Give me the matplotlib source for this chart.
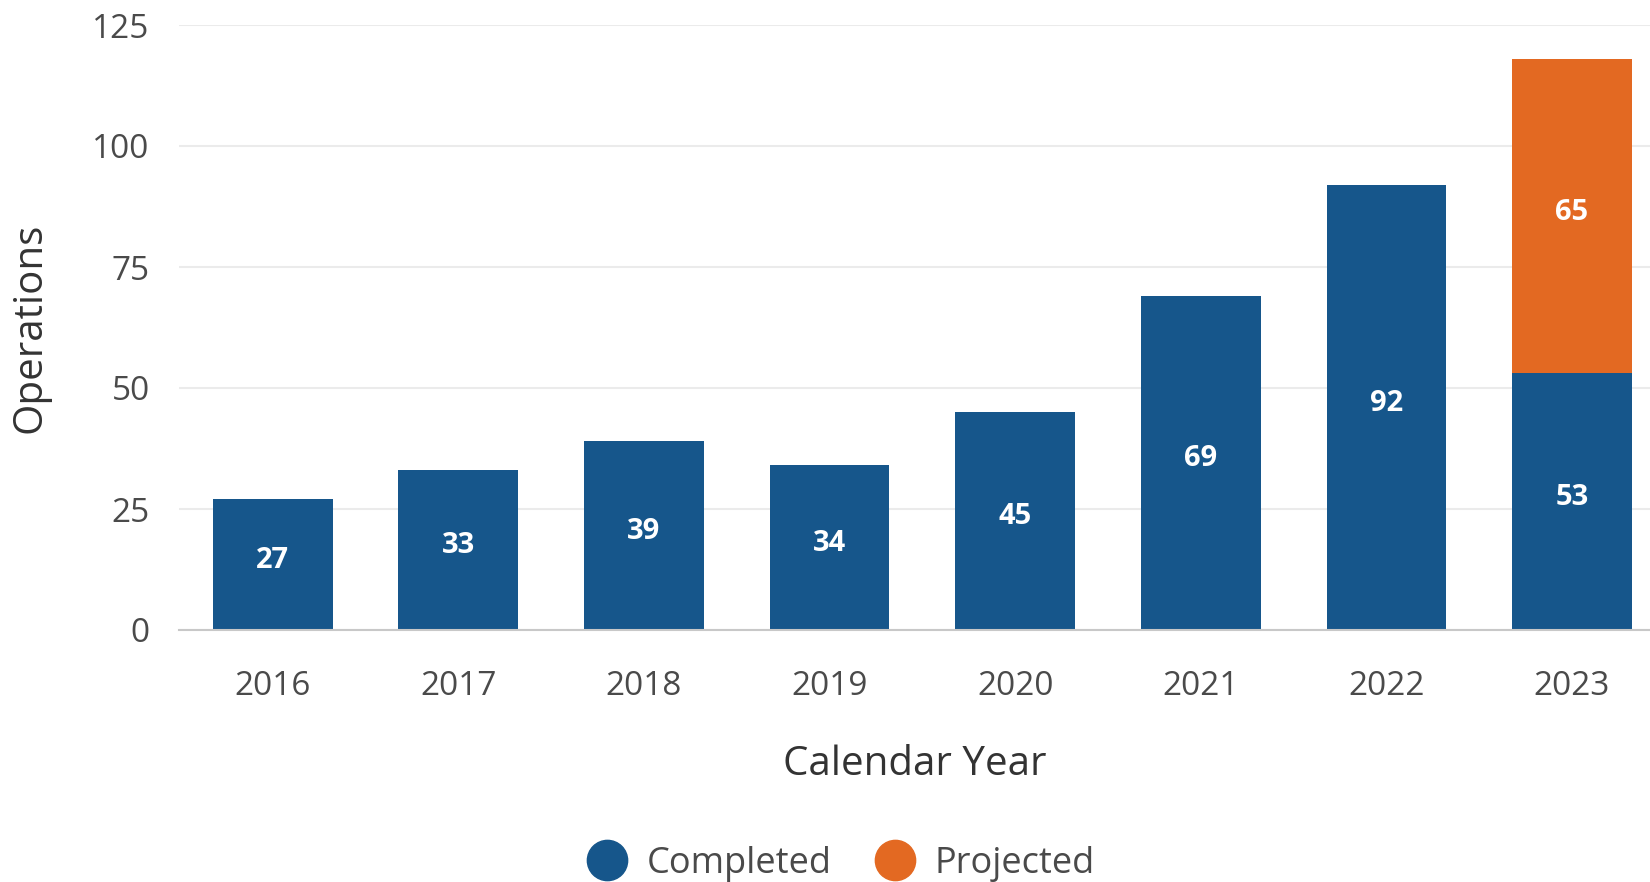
import matplotlib
matplotlib.use("Agg")
import matplotlib.pyplot as plt
from matplotlib.lines import Line2D

years = ["2016", "2017", "2018", "2019", "2020", "2021", "2022", "2023"]
completed = [27, 33, 39, 34, 45, 69, 92, 53]
projected = [0, 0, 0, 0, 0, 0, 0, 65]
yticks = [0, 25, 50, 75, 100, 125]

blue = "#16568b"
orange = "#e36922"
text_col = "#4a4a4a"

plt.rcParams["font.family"] = ["Open Sans", "DejaVu Sans"]

fig = plt.figure(figsize=(16.5, 8.82), dpi=100)
ax = fig.add_axes([179 / 1650, 1 - 630 / 882, 1 - 179 / 1650, (630 - 25) / 882])

x = range(len(years))
w = 0.645
ax.bar(x, completed, width=w, color=blue, zorder=2)
ax.bar(x, projected, width=w, bottom=completed, color=orange, zorder=2)


def seg_label(xpos, ypos, val):
    ax.annotate(str(val), (xpos, ypos), xytext=(0, 3), textcoords="offset points",
                ha="center", va="center", color="white", fontsize=21,
                fontweight="bold", zorder=3)


# value labels in the middle of each segment
for i, (c, p) in enumerate(zip(completed, projected)):
    seg_label(i, c / 2, c)
    if p:
        seg_label(i, c + p / 2, p)

ax.set_xlim(-0.505, 7.42)
ax.set_ylim(0, 125)
ax.set_xticks(list(x))
ax.set_xticklabels(years)
ax.set_yticks(yticks)
ax.tick_params(axis="both", length=0, labelsize=24, labelcolor=text_col)
ax.tick_params(axis="y", pad=21)
ax.tick_params(axis="x", pad=29)
ax.grid(axis="y", color="#ebebeb", linewidth=1.5, zorder=0)
for s in ["top", "right", "left"]:
    ax.spines[s].set_visible(False)
ax.spines["bottom"].set_color("#c8c8c8")
ax.spines["bottom"].set_linewidth(1.5)
ax.spines["bottom"].set_zorder(4)

ax.set_xlabel("Calendar Year", fontsize=29, color="#333333", labelpad=30)
ax.set_ylabel("Operations", fontsize=29, color="#333333", labelpad=30)

handles = [
    Line2D([], [], marker="o", linestyle="", markersize=29, color=blue),
    Line2D([], [], marker="o", linestyle="", markersize=29, color=orange),
]
fig.legend(handles, ["Completed", "Projected"], loc="center",
           bbox_to_anchor=(0.509, 1 - 864 / 882), ncol=2, frameon=False,
           fontsize=26, labelcolor=text_col, handletextpad=0.5,
           columnspacing=1.15, handlelength=1.2)

fig.savefig("out.png", dpi=100)
